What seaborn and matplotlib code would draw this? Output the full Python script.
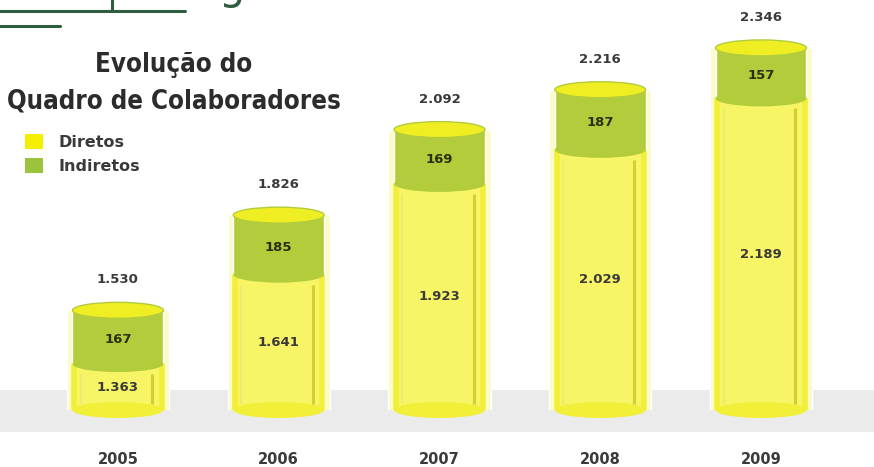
import matplotlib
matplotlib.use("Agg")
import matplotlib.pyplot as plt
import seaborn as sns
import pandas as pd
from matplotlib.patches import Ellipse, Rectangle, Patch
from matplotlib.lines import Line2D
from matplotlib import font_manager

# Quadro de colaboradores por ano
anos = ["2005", "2006", "2007", "2008", "2009"]
diretos = [1363, 1641, 1923, 2029, 2189]
indiretos = [167, 185, 169, 187, 157]
totais = [1530, 1826, 2092, 2216, 2346]

AMARELO = "#f7f565"
AMARELO_BORDA = "#f2ef38"
AMARELO_TOPO = "#efee22"
VERDE = "#b2cc3c"
BRILHO = "#fbfbc8"
TEXTO = "#3a3a3a"

sns.set_theme(style="white")
plt.rcParams["font.family"] = ["DejaVu Sans"]

W, H = 874, 467
fig = plt.figure(figsize=(W / 100, H / 100), dpi=100)
fig.patch.set_facecolor("white")


def fx(px):
    return px / W


def fy(py):
    return 1 - py / H


def fmt(v):
    return f"{v:,}".replace(",", ".")


# faixa cinza do "piso"
fig.add_artist(Rectangle((0, fy(432)), 1, (432 - 390) / H, transform=fig.transFigure,
                         facecolor="#ebebeb", edgecolor="none", zorder=-1))

# filetes do cabeçalho
verde_escuro = "#2f5d40"
fig.add_artist(Line2D([0, fx(185)], [fy(11), fy(11)], transform=fig.transFigure,
                      color=verde_escuro, lw=2.2))
fig.add_artist(Line2D([fx(112), fx(112)], [fy(0), fy(11)], transform=fig.transFigure,
                      color=verde_escuro, lw=2.2))
fig.add_artist(Line2D([0, fx(60)], [fy(26), fy(26)], transform=fig.transFigure,
                      color=verde_escuro, lw=2.2))
fig.text(fx(232), fy(-1), "g", fontsize=30, color=verde_escuro, ha="center", va="baseline")

ax = fig.add_axes([0, fy(410), 1, 410 / H])
ax.patch.set_alpha(0)

df = pd.DataFrame({"ano": anos, "Diretos": diretos, "Indiretos": indiretos, "Total": totais})

BW = 0.566
Y0, Y1 = 1220, 2495

sns.barplot(data=df, x="ano", y="Total", color=BRILHO, width=BW + 0.07, saturation=1,
            ax=ax, zorder=1)
sns.barplot(data=df, x="ano", y="Total", color=VERDE, width=BW, saturation=1, ax=ax, zorder=2)
sns.barplot(data=df, x="ano", y="Diretos", color=AMARELO, width=BW, saturation=1, ax=ax, zorder=3)

ax.set_xlim(-0.734, 4.703)
ax.set_ylim(Y0, Y1)

ppu = 410 / (Y1 - Y0)          # pixels por unidade
eh = 16 / ppu                  # altura das elipses em unidades de dados

for i, (d, t) in enumerate(zip(df["Diretos"], df["Total"])):
    ax.add_patch(Ellipse((i, Y0), BW, eh, facecolor=AMARELO_BORDA, edgecolor="none",
                         zorder=3, clip_on=False))
    ax.add_patch(Ellipse((i, d), BW, eh, facecolor=VERDE, edgecolor="none", zorder=4))
    ax.add_patch(Ellipse((i, t), BW, eh, facecolor=AMARELO_TOPO, edgecolor=VERDE,
                         lw=1.0, zorder=5))
    # bordas e frisos verticais do cilindro
    ax.vlines([i - BW / 2 + 0.012, i + BW / 2 - 0.012], Y0, d, color=AMARELO_BORDA,
              lw=4, zorder=3.5)
    ax.vlines(i + BW / 2 - 0.07, Y0 + 6 / ppu, d - 10 / ppu, color="#d2cf30", lw=2.2, zorder=4)
    ax.vlines(i - BW / 2 + 0.05, Y0 + 6 / ppu, d - 10 / ppu, color="#eeec70", lw=1.5, zorder=4)

    ax.annotate(fmt(t), (i, t), xytext=(0, 22), textcoords="offset points",
                ha="center", va="center", fontsize=9.5, fontweight="bold", color=TEXTO, zorder=6)
    ax.annotate(fmt(t - d), (i, (d + t) / 2), xytext=(0, -2), textcoords="offset points",
                ha="center", va="center", fontsize=9.5, fontweight="bold", color="#26320e", zorder=6)
    ax.annotate(fmt(d), (i, (Y0 + d) / 2), ha="center", va="center", fontsize=9.5,
                fontweight="bold", color=TEXTO, zorder=6)

ax.set_xlabel("")
ax.set_ylabel("")
ax.set_yticks([])
ax.tick_params(axis="x", length=0, pad=30)
for lbl in ax.get_xticklabels():
    lbl.set_fontweight("bold")
    lbl.set_fontsize(10.5)
    lbl.set_color(TEXTO)
sns.despine(ax=ax, left=True, bottom=True)

# título em fonte condensada, quando disponível
fp = font_manager.FontProperties(family="DejaVu Sans", stretch="condensed", weight="bold")
condensada = "Condensed" in font_manager.findfont(fp)
tam_titulo = 18.5 if condensada else 16
for texto, yy in (("Evolução do", 65), ("Quadro de Colaboradores", 101)):
    fig.text(fx(174), fy(yy), texto, ha="center", va="center", fontsize=tam_titulo,
             family="DejaVu Sans", fontstretch="condensed", fontweight="bold", color="#2c2c2c")

# legenda
leg = ax.legend(handles=[Patch(facecolor="#f2ef00", edgecolor="none"),
                         Patch(facecolor="#9cc33c", edgecolor="none")],
                labels=["Diretos", "Indiretos"], loc="upper left",
                bbox_to_anchor=(fx(25), fy(134)), bbox_transform=fig.transFigure,
                frameon=False, fontsize=11.5, handlelength=1.1, handleheight=1.1,
                handletextpad=1.0, labelspacing=0.5, borderpad=0, borderaxespad=0)
for txt in leg.get_texts():
    txt.set_fontweight("bold")
    txt.set_color(TEXTO)

fig.savefig("out.png", dpi=100)
